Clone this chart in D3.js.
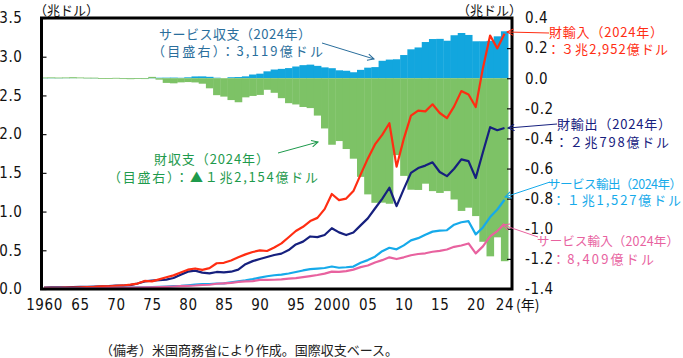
<!DOCTYPE html>
<html><head><meta charset="utf-8">
<script src="https://cdn.jsdelivr.net/npm/d3@7"></script>
<style>body{margin:0;background:#fff}svg{display:block}</style>
</head><body>
<svg id="c" width="683" height="358"></svg>
<script>
// ---- data (billions of US dollars) ----
const years = [1960,1961,1962,1963,1964,1965,1966,1967,1968,1969,
  1970,1971,1972,1973,1974,1975,1976,1977,1978,1979,
  1980,1981,1982,1983,1984,1985,1986,1987,1988,1989,
  1990,1991,1992,1993,1994,1995,1996,1997,1998,1999,
  2000,2001,2002,2003,2004,2005,2006,2007,2008,2009,
  2010,2011,2012,2013,2014,2015,2016,2017,2018,2019,
  2020,2021,2022,2023,2024];
const goodsExports = [19.7,20.1,20.8,22.3,25.5,26.5,29.3,30.7,33.6,36.4,
  42.5,43.3,49.4,71.4,98.3,107.1,114.7,120.8,142.1,184.4,
  224.3,237.0,211.2,201.8,219.9,215.9,223.3,250.2,320.2,359.9,
  387.4,414.1,439.6,456.9,502.9,575.2,612.1,678.4,670.4,698.2,
  784.9,731.3,697.0,729.8,822.0,911.7,1039.4,1164.0,1307.5,1069.5,
  1290.3,1499.2,1561.7,1593.7,1635.6,1511.4,1457.4,1553.4,1674.3,1652.4,
  1434.1,1765.9,2089.9,2050.8,2079.8];
const goodsImports = [14.8,14.5,16.3,17.0,18.7,21.5,25.5,26.9,33.0,35.8,
  39.9,45.6,55.8,70.5,103.8,98.2,124.2,151.9,176.0,212.0,
  249.8,265.1,247.6,268.9,332.4,338.1,368.4,409.8,447.2,477.7,
  498.4,491.0,536.5,589.4,668.7,749.4,803.1,876.8,918.6,1031.8,
  1226.7,1148.6,1167.4,1264.3,1477.1,1683.2,1866.9,1990.4,2141.3,1580.0,
  1939.0,2239.9,2303.8,2294.2,2385.5,2273.2,2207.2,2358.8,2555.7,2512.4,
  2349.8,2852.3,3272.9,3107.6,3295.2];
const servicesExports = [6.3,6.3,6.9,7.3,7.8,8.8,9.6,10.7,11.9,12.8,
  14.2,16.4,17.8,19.8,22.6,25.5,28.0,31.5,36.4,39.7,
  47.6,57.4,64.1,64.3,71.2,73.2,86.7,98.7,110.9,127.1,
  147.8,164.3,177.3,185.9,200.4,219.2,239.5,256.1,262.8,271.3,
  290.4,274.3,280.7,290.0,338.0,373.0,416.7,488.4,532.8,512.7,
  563.3,627.8,656.4,701.5,741.1,753.2,758.9,830.4,862.4,875.8,
  705.6,795.3,928.5,1026.5,1152.7];
const servicesImports = [7.7,7.7,8.1,8.4,8.6,9.1,10.5,11.9,12.3,13.3,
  14.5,15.4,16.9,18.8,21.4,22.0,24.6,27.6,32.2,36.7,
  41.5,45.5,51.7,55.0,67.7,72.9,80.1,90.8,98.5,102.5,
  117.7,118.5,119.6,123.8,133.1,141.4,152.6,165.9,180.7,199.2,
  223.7,221.8,231.0,250.3,282.4,303.0,342.8,372.6,409.1,386.8,
  409.3,435.8,452.0,461.1,480.8,491.7,509.8,544.9,562.1,588.4,
  460.3,550.0,680.2,748.2,840.9];
const goodsBalance = [4.9,5.6,4.5,5.2,6.8,5.0,3.8,3.8,0.6,0.6,
  2.6,-2.3,-6.4,0.9,-5.5,8.9,-9.5,-31.1,-33.9,-27.6,
  -25.5,-28.0,-36.5,-67.1,-112.5,-122.2,-145.1,-159.6,-127.0,-117.7,
  -111.0,-76.9,-96.9,-132.5,-165.8,-174.2,-191.0,-198.4,-248.2,-333.6,
  -441.8,-417.3,-470.3,-534.5,-655.1,-771.5,-827.5,-826.4,-833.8,-510.5,
  -648.7,-740.6,-742.1,-700.5,-749.9,-761.9,-749.8,-805.5,-881.4,-860.0,
  -915.7,-1086.3,-1183.0,-1056.8,-1215.4];
const servicesBalance = [-1.4,-1.4,-1.2,-1.0,-0.8,-0.3,-0.9,-1.2,-0.4,-0.5,
  -0.3,1.0,1.0,1.0,1.2,3.5,3.4,3.8,4.2,3.0,
  6.1,11.9,12.3,9.3,3.4,0.3,6.5,7.9,12.4,24.6,
  30.2,45.8,57.7,62.1,67.3,77.8,86.9,90.2,82.1,72.1,
  66.6,52.6,49.6,39.7,55.6,70.1,73.9,115.8,123.8,125.9,
  154.0,192.0,204.4,240.4,260.3,261.4,249.0,285.5,300.4,287.4,
  245.4,245.3,248.3,278.3,311.8];

const leftTickValues = [0,500,1000,1500,2000,2500,3000,3500];
const leftTickLabels = ["0.0","0.5","1.0","1.5","2.0","2.5","3.0","3.5"];
const rightTickValues = [400,200,0,-200,-400,-600,-800,-1000,-1200,-1400];
const rightTickLabels = ["0.4","0.2","0.0","-0.2","-0.4","-0.6","-0.8","-1.0","-1.2","-1.4"];
const xTickYears = [1960,1965,1970,1975,1980,1985,1990,1995,2000,2005,2010,2015,2020,2024];
const xTickLabels = ["1960","65","70","75","80","85","90","95","2000","05","10","15","20","24"];

// ---- layout ----
const svg = d3.select("#c");
const L = 41.5, R = 512, T = 18, B = 289;
const x = d3.scaleLinear().domain([1960, 2024]).range([44, 504.5]);
const yL = d3.scaleLinear().domain([0, 3500]).range([B, T]);
const yR = d3.scaleLinear().domain([-1400, 400]).range([B, T]);
const bw = (x(2024) - x(1960)) / 64;

const numFont = "'Liberation Sans Narrow','DejaVu Sans Condensed','Roboto',sans-serif";
const jpFont = "'Noto Sans CJK JP','Noto Sans',sans-serif";

// bars
const barG = svg.append("g");
barG.selectAll("rect.sb").data(years).join("rect")
  .attr("x", (d) => x(d) - bw/2).attr("width", bw + 0.4)
  .attr("y", (d,i) => yR(Math.max(0, servicesBalance[i])))
  .attr("height", (d,i) => Math.abs(yR(servicesBalance[i]) - yR(0)))
  .attr("fill", "#12a6de");
barG.selectAll("rect.gb").data(years).join("rect")
  .attr("x", (d) => x(d) - bw/2).attr("width", bw + 0.4)
  .attr("y", (d,i) => yR(Math.max(0, goodsBalance[i])))
  .attr("height", (d,i) => Math.max(0.8, Math.abs(yR(goodsBalance[i]) - yR(0))))
  .attr("fill", "#7dc266");

// lines
function drawLine(vals, color) {
  const line = d3.line().x((d,i) => x(years[i])).y(d => yL(d));
  svg.append("path").datum(vals).attr("d", line)
    .attr("fill", "none").attr("stroke", color).attr("stroke-width", 2.2)
    .attr("stroke-linejoin", "round");
}
drawLine(goodsExports, "#16207e");
drawLine(goodsImports, "#ff2d12");
drawLine(servicesExports, "#16aaea");
drawLine(servicesImports, "#e8629f");

// axes
const axL = svg.append("g").attr("transform", `translate(${L},0)`)
  .call(d3.axisLeft(yL).tickValues(leftTickValues).tickSize(-5).tickPadding(20)
    .tickFormat((d,i) => leftTickLabels[i]));
const axR = svg.append("g").attr("transform", `translate(${R},0)`)
  .call(d3.axisRight(yR).tickValues(rightTickValues).tickSize(-5).tickPadding(18)
    .tickFormat((d,i) => rightTickLabels[i]));
const axB = svg.append("g").attr("transform", `translate(0,${B})`)
  .call(d3.axisBottom(x).tickValues(xTickYears).tickSize(0).tickPadding(10)
    .tickFormat((d,i) => xTickLabels[i]));
[axL, axR, axB].forEach(a => {
  a.select(".domain").remove();
  a.selectAll("text").attr("font-family", numFont).attr("font-size", 15)
    .attr("fill", "#111").attr("letter-spacing", 0.6);
  a.selectAll("line").attr("stroke", "#111").attr("stroke-width", 1.2);
});
axL.selectAll("text").attr("text-anchor", "end").attr("x", -19);
axR.selectAll("text").attr("text-anchor", "start").attr("x", 13);

// frame
svg.append("rect").attr("x", L).attr("y", T).attr("width", R - L).attr("height", B - T)
  .attr("fill", "none").attr("stroke", "#000").attr("stroke-width", 3);

// unit labels
svg.append("text").attr("x", 34).attr("y", 15).text("（兆ドル）")
  .attr("font-family", jpFont).attr("font-size", 13).attr("fill", "#111");
svg.append("text").attr("x", 522).attr("y", 15).attr("text-anchor", "end").text("（兆ドル）")
  .attr("font-family", jpFont).attr("font-size", 13).attr("fill", "#111");
svg.append("text").attr("x", 516).attr("y", 310).text("(年)")
  .attr("font-family", jpFont).attr("font-size", 14).attr("fill", "#111");
svg.append("text").attr("x", 100).attr("y", 355).text("（備考）米国商務省により作成。国際収支ベース。")
  .attr("font-family", jpFont).attr("font-size", 13).attr("fill", "#222");

// annotations
const defs = svg.append("defs");
function marker(id, color) {
  defs.append("marker").attr("id", id).attr("viewBox", "0 0 10 10")
    .attr("refX", 9).attr("refY", 5).attr("markerWidth", 8).attr("markerHeight", 8)
    .attr("markerUnits", "userSpaceOnUse").attr("orient", "auto")
    .append("path").attr("d", "M1,1 L9,5 L1,9").attr("fill", "none")
    .attr("stroke", color).attr("stroke-width", 1.3);
}
const notes = [
  {id:"a1", color:"#2a6e9c", size:[13,13], lines:["サービス収支（2024年）","（目盛右）：3,119億ドル"], xs:[159,152], ys:[39,56], lens:[152,171], arrow:[322,43,374,59]},
  {id:"a2", color:"#1e9a4c", size:[13,13], lines:["財収支（2024年）","（目盛右）：▲１兆2,154億ドル"], xs:[154,108], ys:[164,182], lens:[115,210], arrow:[278,153,318,142]},
  {id:"a3", color:"#ff2d12", size:[13,13], lines:["財輸入（2024年）","：３兆2,952億ドル"], xs:[549,547], ys:[37,54], lens:[114,121], arrow:[549,33,507,32]},
  {id:"a4", color:"#16207e", size:[13,13], lines:["財輸出（2024年）","：２兆798億ドル"], xs:[557,555], ys:[129,147], lens:[114,114], arrow:[557,124,508,128]},
  {id:"a5", color:"#16aaea", size:[12.5,13], lines:["サービス輸出（2024年）","：１兆1,527億ドル"], xs:[548,552], ys:[189,205], lens:[134,129], arrow:[550,182,505,197]},
  {id:"a6", color:"#e8629f", size:[12.5,13], lines:["サービス輸入（2024年）","：8,409億ドル"], xs:[537,552], ys:[246,264], lens:[142,102], arrow:[538,237,503,225]}
];
notes.forEach(n => {
  marker(n.id, n.color);
  n.lines.forEach((t, i) => {
    svg.append("text").attr("x", n.xs[i]).attr("y", n.ys[i]).text(t)
      .attr("textLength", n.lens[i]).attr("lengthAdjust", "spacing")
      .attr("font-family", jpFont).attr("font-size", n.size[i]).attr("fill", n.color);
  });
  svg.append("line").attr("x1", n.arrow[0]).attr("y1", n.arrow[1])
    .attr("x2", n.arrow[2]).attr("y2", n.arrow[3])
    .attr("stroke", n.color).attr("stroke-width", 1)
    .attr("marker-end", `url(#${n.id})`);
});
</script>
</body></html>
